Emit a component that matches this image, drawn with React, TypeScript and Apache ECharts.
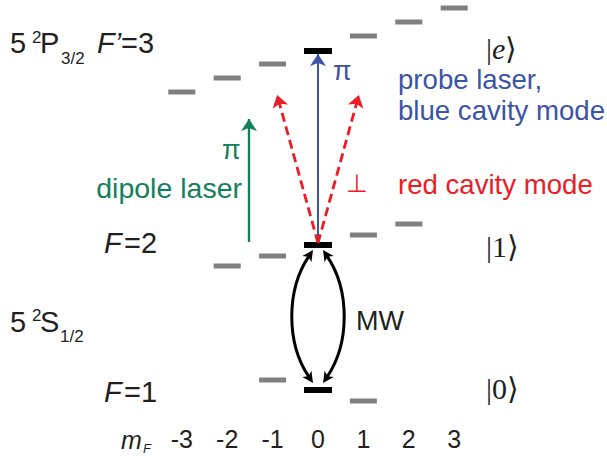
import React, { useEffect, useRef } from "react";
import * as echarts from "echarts";

// magnetic sublevels
const mFTicks = [-3, -2, -1, 0, 1, 2, 3];
// 5 2P3/2 F'=3 level energies (arb. units)
const excitedMF = [-3, -2, -1, 0, 1, 2, 3];
const excitedE = [367, 381, 395, 408, 423, 437, 451];
// 5 2S1/2 F=2
const f2MF = [-2, -1, 0, 1, 2];
const f2E = [193, 203, 214, 224, 235];
// 5 2S1/2 F=1
const f1MF = [-1, 0, 1];
const f1E = [79, 69, 58];

// transitions [from, to] in (mF, energy)
const probeArrow = [[0, 216], [0, 405]];
const cavityArrowL = [[0, 216], [-0.9, 364]];
const cavityArrowR = [[0, 216], [0.9, 364]];
const dipoleArrow = [[-1.52, 217], [-1.52, 340]];
// microwave arcs: [mF, E top, E bottom, side]
const mwArcs = [
  [-0.11, 209, 76, -1],
  [0.11, 209, 76, 1],
];

const BLUE = "#3B54A4";
const RED = "#ED1C24";
const GREEN = "#13805C";
const GRAY = "#808080";
const INK = "#231F20";
const SANS = '"Liberation Sans", Arial, sans-serif';
const SERIF = '"Liberation Serif", "Times New Roman", serif';

function txt(text: string, x: number, y: number, size: number, fill = INK, extra: any = {}) {
  return {
    type: "text",
    x,
    y,
    silent: true,
    style: {
      text,
      fontSize: size,
      fontFamily: SANS,
      fill,
      align: "left",
      verticalAlign: "middle",
      ...extra,
    },
  };
}

function ket(inner: string, italic: boolean, x: number, y: number) {
  return {
    type: "text",
    x,
    y,
    silent: true,
    style: {
      text: `{n||}{i|${inner}}{n|⟩}`,
      align: "left",
      verticalAlign: "middle",
      rich: {
        n: { fontSize: 30, fontFamily: SERIF, fill: INK },
        i: { fontSize: 30, fontFamily: SERIF, fill: INK, fontStyle: italic ? "italic" : "normal" },
      },
    },
  };
}

function arrowHead(tip: number[], from: number[], len: number, half: number, color: string) {
  const dx = tip[0] - from[0];
  const dy = tip[1] - from[1];
  const n = Math.hypot(dx, dy) || 1;
  const ux = dx / n;
  const uy = dy / n;
  const bx = tip[0] - ux * len;
  const by = tip[1] - uy * len;
  return {
    type: "polygon",
    shape: {
      points: [
        tip,
        [bx - uy * half, by + ux * half],
        [tip[0] - ux * len * 0.75, tip[1] - uy * len * 0.75],
        [bx + uy * half, by - ux * half],
      ],
    },
    style: { fill: color },
  };
}

export default function App() {
  const ref = useRef<HTMLDivElement>(null);
  useEffect(() => {
    if (!ref.current) return;
    const chart = echarts.init(ref.current, null, { renderer: "svg" });
    const levelData = [
      ...excitedMF.map((m, i) => [m, excitedE[i]]),
      ...f2MF.map((m, i) => [m, f2E[i]]),
      ...f1MF.map((m, i) => [m, f1E[i]]),
    ];
    const arrowSeries = (coords: number[][][], color: string, width: number, opts: any = {}) => ({
      type: "lines",
      coordinateSystem: "cartesian2d",
      symbol: opts.symbol || ["none", "arrow"],
      symbolSize: opts.symbolSize || 11,
      silent: true,
      z: 3,
      lineStyle: {
        color,
        width,
        opacity: 1,
        type: opts.type || "solid",
        curveness: opts.curveness || 0,
      },
      data: coords.map((c) => ({ coords: c })),
    });
    chart.setOption({
      animation: false,
      grid: { left: 136.4, width: 363.2, top: 0, bottom: 34 },
      xAxis: {
        type: "value",
        min: -4,
        max: 4,
        interval: 1,
        axisLine: { show: false },
        axisTick: { show: false },
        splitLine: { show: false },
        axisLabel: {
          margin: 1,
          fontSize: 25,
          fontFamily: SANS,
          color: INK,
          formatter: (v: number) => (mFTicks.includes(v) ? String(v) : ""),
        },
      },
      yAxis: { type: "value", min: 34, max: 459, show: false },
      series: [
        {
          type: "custom",
          z: 2,
          silent: true,
          data: levelData,
          renderItem: (params: any, api: any) => {
            const c = api.coord([api.value(0), api.value(1)]);
            const center = api.value(0) === 0;
            const w = center ? 28 : 27;
            const h = center ? 6 : 5;
            return {
              type: "rect",
              shape: { x: c[0] - w / 2, y: c[1] - h / 2, width: w, height: h },
              style: { fill: center ? "#000" : GRAY },
            };
          },
        },
        {
          type: "custom",
          z: 4,
          silent: true,
          data: mwArcs,
          renderItem: (params: any, api: any) => {
            const p0 = api.coord([api.value(0), api.value(1)]);
            const p3 = api.coord([api.value(0), api.value(2)]);
            const side = api.value(3);
            const bulge = 27 * side;
            const span = p3[1] - p0[1];
            const c1 = [p0[0] + bulge, p0[1] + span * 0.3];
            const c2 = [p3[0] + bulge, p3[1] - span * 0.3];
            // shorten the curve so the arrow tips stay sharp
            const shrink = (p: number[], c: number[], d: number) => {
              const dx = c[0] - p[0];
              const dy = c[1] - p[1];
              const n = Math.hypot(dx, dy) || 1;
              return [p[0] + (dx / n) * d, p[1] + (dy / n) * d];
            };
            const s0 = shrink(p0, c1, 7);
            const s3 = shrink(p3, c2, 7);
            return {
              type: "group",
              children: [
                {
                  type: "bezierCurve",
                  shape: {
                    x1: s0[0], y1: s0[1],
                    cpx1: c1[0], cpy1: c1[1],
                    cpx2: c2[0], cpy2: c2[1],
                    x2: s3[0], y2: s3[1],
                  },
                  style: { stroke: "#000", lineWidth: 3, fill: "none" },
                },
                arrowHead(p0, c1, 11, 5.5, "#000"),
                arrowHead(p3, c2, 11, 5.5, "#000"),
              ],
            };
          },
        },
        arrowSeries([probeArrow], BLUE, 2, { symbolSize: [10, 12] }),
        arrowSeries([cavityArrowL, cavityArrowR], RED, 2.8, { type: [9, 5], symbolSize: 12 }),
        arrowSeries([dipoleArrow], GREEN, 2.4, { symbolSize: 12 }),
      ],
      graphic: [
        // 5 2P3/2 F'=3
        txt("5", 10, 43, 29),
        txt("2", 32, 37, 17),
        txt("P", 40, 43, 29),
        txt("3/2", 61, 58, 17),
        txt("F’", 97, 43, 29, INK, { fontStyle: "italic" }),
        txt("=3", 121, 43, 29),
        // 5 2S1/2
        txt("5", 10, 322, 29),
        txt("2", 32, 315, 17),
        txt("S", 40, 322, 29),
        txt("1/2", 60, 336, 17),
        // F=2, F=1
        txt("F", 104, 243, 29, INK, { fontStyle: "italic" }),
        txt("=2", 124, 243, 29),
        txt("F", 104, 392, 29, INK, { fontStyle: "italic" }),
        txt("=1", 124, 392, 29),
        // mF
        txt("m", 121, 440, 25, INK, { fontStyle: "italic" }),
        txt("F", 143, 448, 13, INK, { fontStyle: "italic" }),
        // kets
        ket("e", true, 486, 48),
        ket("1", false, 486, 246),
        ket("0", false, 486, 388),
        // annotations
        txt("π", 333, 71, 27, BLUE),
        txt("probe laser,", 398, 79, 27.6, BLUE),
        txt("blue cavity mode", 398, 110, 27.6, BLUE),
        txt("π", 222, 150, 27, GREEN),
        txt("dipole laser", 242, 188, 28.5, GREEN, { align: "right" }),
        txt("⊥", 346, 183, 25, RED),
        txt("red cavity mode", 398, 184, 27.6, RED),
        txt("MW", 356, 321, 27),
      ],
    });
    return () => chart.dispose();
  }, []);
  return (
    <div
      ref={ref}
      style={{ position: "fixed", left: 0, top: 0, width: 607, height: 459, background: "#fff" }}
    />
  );
}
